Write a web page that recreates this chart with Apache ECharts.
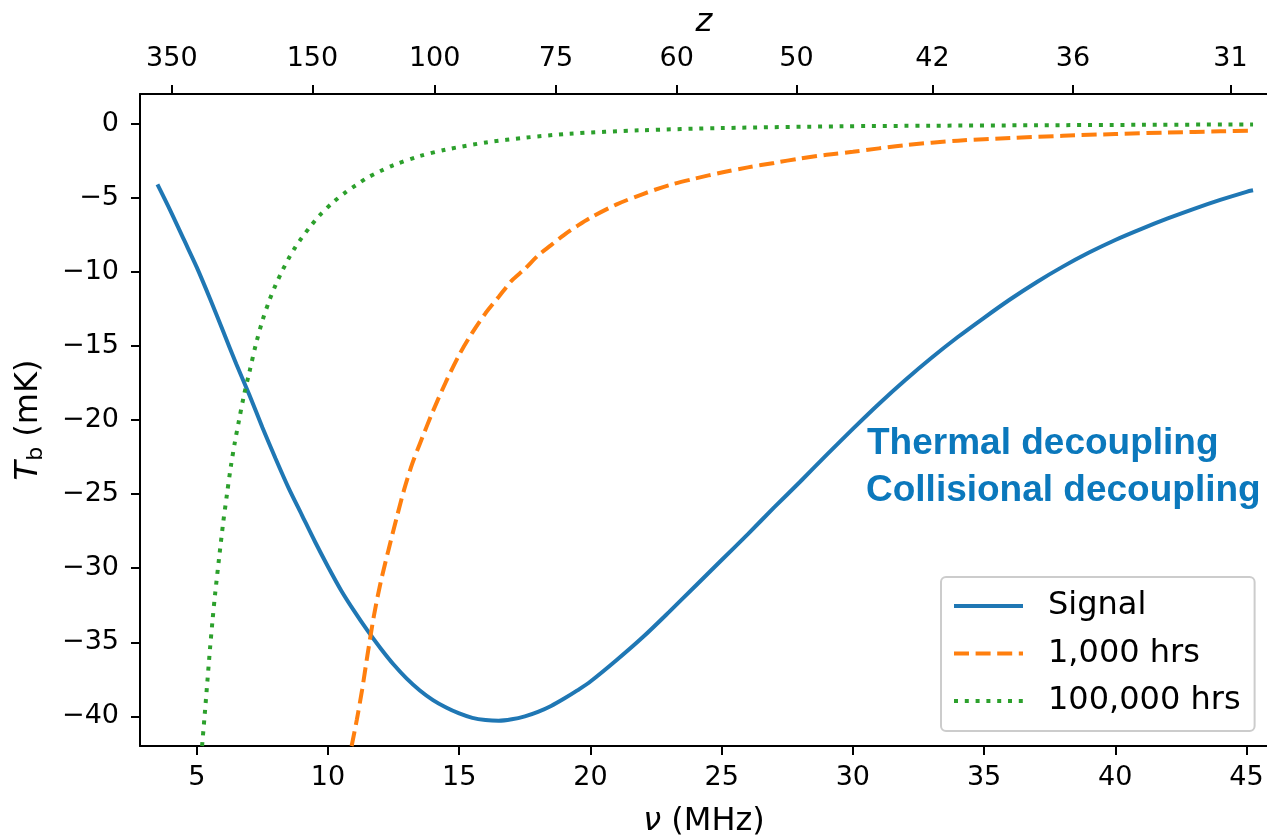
<!DOCTYPE html>
<html><head><meta charset="utf-8">
<script src="https://cdn.jsdelivr.net/npm/echarts@6/dist/echarts.min.js"></script>
<style>html,body{margin:0;padding:0;background:#fff}#c{width:1267px;height:838px}</style>
</head><body><div id="c"></div>
<script>
// ---- data ----
const nuSignal = [3.5,4.0,4.5,5.0,5.5,6.0,6.5,7.0,7.5,8.0,8.5,9.0,9.5,10.0,10.5,11.0,11.5,12.0,12.5,13.0,13.5,14.0,14.5,15.0,15.5,16.0,16.5,17.0,17.5,18.0,18.5,19.0,19.5,20.0,21,22,23,24,25,26,27,28,29,30,31,32,33,34,35,36,37,38,39,40,41,42,43,44,45,45.25];
const tSignal = [-4.1,-5.9,-7.8,-9.7,-11.8,-14.0,-16.2,-18.3,-20.5,-22.6,-24.6,-26.4,-28.2,-29.9,-31.5,-32.9,-34.2,-35.4,-36.5,-37.45,-38.25,-38.9,-39.4,-39.8,-40.1,-40.25,-40.3,-40.2,-40.0,-39.7,-39.3,-38.8,-38.25,-37.65,-36.2,-34.65,-32.95,-31.2,-29.45,-27.7,-25.9,-24.15,-22.35,-20.6,-18.9,-17.3,-15.8,-14.4,-13.1,-11.85,-10.7,-9.65,-8.7,-7.85,-7.1,-6.4,-5.75,-5.15,-4.6,-4.5];

const nu1000 = [10.9,11.1,11.3,11.5,11.75,12.0,12.3,12.6,12.9,13.2,13.5,14.0,14.5,15.0,15.5,16.0,16.5,17.0,17.5,18.0,18.5,19.0,19.5,20.0,21,22,23,24,25,26,27,28,29,30,32,34,36,38,40,42,44,45.25];
const t1000 = [-42.0,-40.2,-38.2,-35.9,-33.2,-31.0,-28.8,-26.7,-24.7,-23.0,-21.6,-19.4,-17.4,-15.6,-14.1,-12.8,-11.7,-10.6,-9.8,-8.9,-8.2,-7.5,-6.9,-6.35,-5.45,-4.75,-4.15,-3.7,-3.3,-2.95,-2.65,-2.35,-2.1,-1.9,-1.45,-1.15,-0.97,-0.82,-0.7,-0.6,-0.52,-0.48];

const nu100k = [5.2,5.3,5.4,5.5,5.6,5.7,5.85,6.0,6.15,6.3,6.45,6.6,6.8,7.0,7.25,7.5,7.75,8.0,8.25,8.5,8.75,9.0,9.3,9.67,10.2,10.69,11.07,11.5,12.0,12.5,13.48,14.5,16.1,17.5,19.2,21.9,25,29.5,33,37,41,45.25];
const t100k = [-42.0,-39.9,-37.7,-35.5,-33.5,-31.7,-29.3,-27.0,-25.0,-23.1,-21.5,-20.1,-18.3,-16.8,-14.9,-13.3,-12.0,-10.9,-9.95,-9.1,-8.35,-7.7,-7.0,-6.2,-5.3,-4.6,-4.15,-3.65,-3.2,-2.8,-2.2,-1.75,-1.25,-0.95,-0.68,-0.45,-0.3,-0.18,-0.14,-0.11,-0.08,-0.05];

const seriesNames = ['Signal', '1,000 hrs', '100,000 hrs'];
const xTicks = [5,10,15,20,25,30,35,40,45];
const yTicks = [-40,-35,-30,-25,-20,-15,-10,-5,0];
const zTicks = [350,150,100,75,60,50,42,36,31];
const annotations = ['Thermal decoupling', 'Collisional decoupling'];

// ---- derived ----
const NU21 = 1420.4057;
const zTickNu = zTicks.map(z => NU21 / (1 + z));
const xMin = NU21 / (1 + 500), xMax = NU21 / (1 + 30);
const zip = (a, b) => a.map((v, i) => [v, b[i]]);
const FONT = 'DejaVu Sans';
const minus = v => String(v).replace('-', '\u2212');

const chart = echarts.init(document.getElementById('c'), null, {renderer: 'canvas'});
const axisLine = {show: true, onZero: false, lineStyle: {color: '#000', width: 2}};
const axisTickBase = {show: true, length: 9, lineStyle: {color: '#000', width: 2}};

chart.setOption({
  animation: false,
  backgroundColor: '#fff',
  grid: {left: 140, right: -1, top: 94, bottom: 92, containLabel: false, outerBoundsMode: 'none'},
  xAxis: [{
    type: 'value', position: 'bottom', min: xMin, max: xMax,
    axisLine: axisLine,
    axisTick: Object.assign({customValues: xTicks}, axisTickBase),
    axisLabel: {customValues: xTicks, color: '#000', fontFamily: FONT, fontSize: 27, margin: 18},
    splitLine: {show: false},
    name: '{i|\u03bd} (MHz)', nameLocation: 'middle', nameGap: 58,
    nameTextStyle: {color: '#000', fontFamily: FONT, fontSize: 32, lineHeight: 36,
      rich: {i: {fontFamily: FONT, fontStyle: 'italic', fontSize: 32, lineHeight: 36, color: '#000'}}}
  }, {
    type: 'value', position: 'top', min: xMin, max: xMax,
    axisLine: axisLine,
    axisTick: Object.assign({customValues: zTickNu}, axisTickBase),
    axisLabel: {customValues: zTickNu, color: '#000', fontFamily: FONT, fontSize: 27, margin: 22,
      formatter: v => { const i = zTickNu.findIndex(n => Math.abs(n - v) < 1e-6); return i >= 0 ? String(zTicks[i]) : ''; }},
    splitLine: {show: false},
    name: 'z', nameLocation: 'middle', nameGap: 55,
    nameTextStyle: {color: '#000', fontFamily: FONT, fontSize: 32, fontStyle: 'italic'}
  }],
  yAxis: [{
    type: 'value', min: -42, max: 2,
    axisLine: axisLine,
    axisTick: Object.assign({customValues: yTicks}, axisTickBase),
    axisLabel: {customValues: yTicks, color: '#000', fontFamily: FONT, fontSize: 27, margin: 21, formatter: minus},
    splitLine: {show: false},
    name: '{t|T}{s|b} (mK)', nameLocation: 'middle', nameGap: 93, nameRotate: 90,
    nameTextStyle: {color: '#000', fontFamily: FONT, fontSize: 32, lineHeight: 36,
      rich: {
        t: {fontFamily: FONT, fontStyle: 'italic', fontSize: 32, lineHeight: 36, color: '#000'},
        s: {fontFamily: FONT, fontSize: 22, lineHeight: 22, verticalAlign: 'bottom', color: '#000'}
      }}
  }],
  legend: {
    orient: 'vertical', left: 941, top: 577,
    data: seriesNames,
    itemWidth: 69, itemHeight: 14, itemGap: 11.5,
    padding: [11, 14, 12, 11],
    backgroundColor: 'rgba(255,255,255,0.8)',
    borderColor: '#cccccc', borderWidth: 2, borderRadius: 5,
    itemStyle: {opacity: 0},
    lineStyle: {width: 4},
    textStyle: {color: '#000', fontFamily: FONT, fontSize: 32, lineHeight: 36, padding: [0, 0, 0, 20]}
  },
  graphic: [
    {type: 'text', x: 867, y: 444, style: {text: annotations[0], font: 'bold 37px "Liberation Sans"', fill: '#0b78bc', verticalAlign: 'middle', align: 'left'}},
    {type: 'text', x: 866, y: 490.5, style: {text: annotations[1], font: 'bold 37px "Liberation Sans"', fill: '#0b78bc', verticalAlign: 'middle', align: 'left'}}
  ],
  series: [{
    name: seriesNames[0], type: 'line', data: zip(nuSignal, tSignal), symbol: 'none',
    smooth: 0.3, clip: true,
    lineStyle: {color: '#1f77b4', width: 4}, itemStyle: {color: '#1f77b4'}
  }, {
    name: seriesNames[1], type: 'line', data: zip(nu1000, t1000), symbol: 'none',
    smooth: 0.3, clip: true,
    lineStyle: {color: '#ff7f0e', width: 4, type: [15, 6.6]}, itemStyle: {color: '#ff7f0e'}
  }, {
    name: seriesNames[2], type: 'line', data: zip(nu100k, t100k), symbol: 'none',
    smooth: 0.3, clip: true,
    lineStyle: {color: '#2ca02c', width: 4, type: [4, 6.8]}, itemStyle: {color: '#2ca02c'}
  }]
});
</script></body></html>
